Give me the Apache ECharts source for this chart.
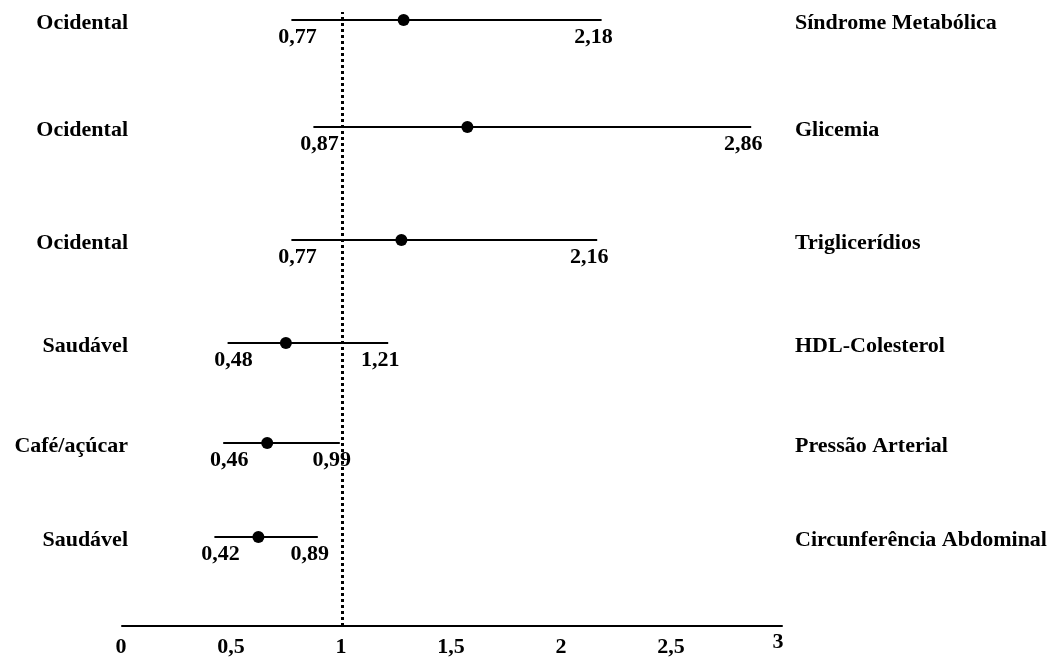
<!DOCTYPE html>
<html>
<head>
<meta charset="utf-8">
<script src="https://cdn.jsdelivr.net/npm/echarts@6/dist/echarts.min.js"></script>
<style>
html,body{margin:0;padding:0;background:#fff;}
#chart{width:1057px;height:657px;}
</style>
</head>
<body>
<div id="chart"></div>
<script>
const outcomes = ['Síndrome Metabólica','Glicemia','Triglicerídios','HDL-Colesterol','Pressão Arterial','Circunferência Abdominal'];
const patterns = ['Ocidental','Ocidental','Ocidental','Saudável','Café/açúcar','Saudável'];
const estimates = [1.28, 1.57, 1.27, 0.745, 0.66, 0.62];
const lower = [0.77, 0.87, 0.77, 0.48, 0.46, 0.42];
const upper = [2.18, 2.86, 2.16, 1.21, 0.99, 0.89];
const rowPos = [6.06, 4.99, 3.86, 2.83, 1.83, 0.89];
const xTicks = [0, 0.5, 1, 1.5, 2, 2.5, 3];
const refValue = 1;

const FONT = 'bold 22px "Liberation Serif", "Times New Roman", serif';
const fmt = v => String(v).replace('.', ',');

const chart = echarts.init(document.getElementById('chart'), null, {renderer: 'canvas'});

const ciData = lower.map((lo, i) => [lo, upper[i], rowPos[i]]);
const pointData = estimates.map((e, i) => [e, rowPos[i]]);
const tickData = xTicks.map(v => [v, 0]);

chart.setOption({
  animation: false,
  backgroundColor: '#fff',
  grid: {left: 122, right: 275, top: 12, bottom: 31, containLabel: false},
  xAxis: {
    type: 'value', min: 0, max: 3, interval: 0.5,
    splitLine: {show: false},
    axisTick: {show: false},
    axisLine: {show: true, lineStyle: {color: '#000', width: 2}},
    axisLabel: {show: false}
  },
  yAxis: {
    type: 'value', min: 0, max: 6.14,
    show: false, splitLine: {show: false}
  },
  series: [
    {
      type: 'custom',
      clip: false,
      data: ciData,
      renderItem: (params, api) => {
        const i = params.dataIndex;
        const y = api.value(2);
        const a = api.coord([api.value(0), y]);
        const b = api.coord([api.value(1), y]);
        const x0 = api.coord([0, y])[0];
        const x3 = api.coord([3, y])[0];
        return {
          type: 'group',
          children: [
            {type: 'line', shape: {x1: a[0], y1: a[1], x2: b[0], y2: b[1]},
             style: {stroke: '#000', lineWidth: 2}},
            {type: 'text', style: {text: fmt(lower[i]), x: a[0] + 6, y: a[1] + 17,
              align: 'center', verticalAlign: 'middle', font: FONT, fill: '#000'}},
            {type: 'text', style: {text: fmt(upper[i]), x: b[0] - 8, y: b[1] + 17,
              align: 'center', verticalAlign: 'middle', font: FONT, fill: '#000'}},
            {type: 'text', style: {text: patterns[i], x: x0 + 6, y: a[1] + 3,
              align: 'right', verticalAlign: 'middle', font: FONT, fill: '#000'}},
            {type: 'text', style: {text: outcomes[i], x: x3 + 13, y: a[1] + 3,
              align: 'left', verticalAlign: 'middle', font: FONT, fill: '#000'}}
          ]
        };
      },
      z: 2
    },
    {
      type: 'custom',
      clip: false,
      data: tickData,
      renderItem: (params, api) => {
        const v = api.value(0);
        const p = api.coord([v, 0]);
        const isMax = v === xTicks[xTicks.length - 1];
        return {
          type: 'text',
          style: {text: fmt(v), x: p[0] + (isMax ? -4 : -1), y: p[1] + (isMax ? 16 : 21),
            align: 'center', verticalAlign: 'middle', font: FONT, fill: '#000'}
        };
      },
      z: 2
    },
    {
      type: 'scatter',
      data: pointData,
      symbol: 'circle',
      symbolSize: 12,
      itemStyle: {color: '#000', opacity: 1},
      z: 3,
      markLine: {
        silent: true,
        symbol: ['none', 'none'],
        label: {show: false},
        lineStyle: {color: '#000', width: 3, type: [3, 3]},
        data: [{xAxis: refValue}]
      }
    }
  ]
});
</script>
</body>
</html>
